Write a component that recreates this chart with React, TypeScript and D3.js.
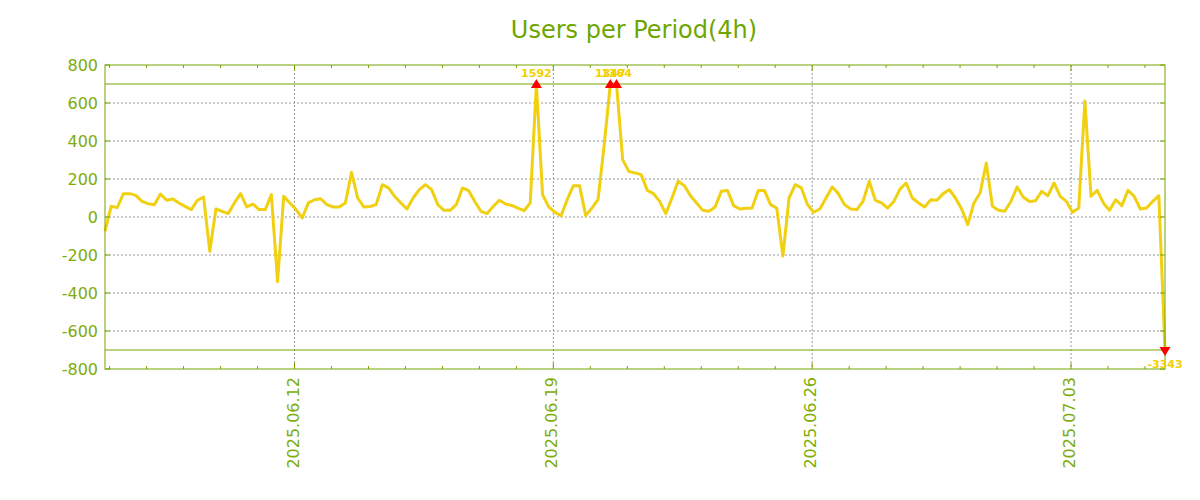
import React from "react";
import * as d3 from "d3";

// chart data, one value per 4h period
const chartTitle = "Users per Period(4h)";
const startTime = Date.UTC(2025, 5, 6, 21);
const periodHours = 4;
const users = [
  -75, 56, 50, 123, 123, 114, 82, 70, 65, 121,
  88, 95, 74, 56, 39, 88, 105, -180, 42, 30,
  18, 74, 123, 53, 68, 39, 39, 118, -340, 109,
  74, 39, -5, 74, 91, 96, 65, 53, 53, 74,
  235, 100, 53, 55, 65, 170, 153, 109, 74, 42,
  100, 144, 170, 144, 65, 35, 35, 65, 153, 139,
  82, 30, 18, 56, 88, 68, 61, 47, 33, 74,
  1592, 118, 53, 25, 7, 91, 165, 165, 7, 47,
  91, 380, 1347, 1364, 302, 240, 232, 223, 140, 123,
  82, 18, 100, 188, 165, 112, 74, 35, 30, 53,
  135, 140, 60, 42, 46, 47, 140, 140, 65, 47,
  -205, 100, 170, 153, 65, 25, 42, 100, 158, 123,
  65, 42, 39, 82, 188, 88, 74, 47, 82, 147,
  179, 100, 74, 53, 91, 88, 123, 144, 100, 42,
  -40, 74, 126, 284, 56, 35, 30, 82, 158, 105,
  82, 86, 135, 112, 179, 109, 82, 25, 47, 610,
  109, 140, 74, 35, 91, 60, 140, 109, 42, 47,
  82, 112, -3343,
];
const yTicks = [-800, -600, -400, -200, 0, 200, 400, 600, 800];
const clipLimit = 700;

const W = 1200;
const H = 500;
const margin = { left: 105, right: 35, top: 65, bottom: 131 };

const green = "#76a400";
const textGreen = "#7eac08";
const lineYellow = "#f0d010";
const font = "DejaVu Sans";

export default function App() {
  const points = users.map((v, i) => ({
    t: new Date(startTime + i * periodHours * 3600 * 1000),
    v,
  }));

  const x = d3
    .scaleUtc()
    .domain(d3.extent(points, (d) => d.t) as [Date, Date])
    .range([margin.left, W - margin.right]);
  const y = d3
    .scaleLinear()
    .domain([-800, 800])
    .range([H - margin.bottom, margin.top]);

  const clamp = (v: number) => Math.max(-clipLimit, Math.min(clipLimit, v));

  const line = d3
    .line<{ t: Date; v: number }>()
    .x((d) => x(d.t))
    .y((d) => y(clamp(d.v)));

  const [x0, x1] = x.range();
  const [yb, yt] = y.range();
  const days = x.ticks(d3.utcDay.every(1)!);
  const weeks = x.ticks(d3.utcThursday.every(1)!);
  const fmt = d3.utcFormat("%Y.%m.%d");
  const isWeek = (d: Date) => weeks.some((w) => +w === +d);

  const clipped = points.filter((d) => Math.abs(d.v) > clipLimit);

  return (
    <svg
      width={W}
      height={H}
      style={{ position: "absolute", left: 0, top: 0 }}
      fontFamily={font}
    >
      <rect width={W} height={H} fill="#fff" />
      <text
        x={634}
        y={38}
        textAnchor="middle"
        fontSize={24}
        fill="#6ea600"
      >
        {chartTitle}
      </text>

      {/* grid */}
      {yTicks
        .filter((t) => Math.abs(t) < 800)
        .map((t) => (
          <line
            key={"gy" + t}
            x1={x0}
            x2={x1}
            y1={y(t)}
            y2={y(t)}
            stroke="#999"
            strokeDasharray="2,2"
          />
        ))}
      {weeks.map((d) => (
        <line
          key={"gx" + +d}
          x1={x(d)}
          x2={x(d)}
          y1={yt}
          y2={yb}
          stroke="#999"
          strokeDasharray="2,2"
        />
      ))}

      {/* series */}
      <path
        d={line(points) ?? ""}
        fill="none"
        stroke={lineYellow}
        strokeWidth={3}
        strokeLinejoin="round"
      />

      {/* limit lines */}
      {[clipLimit, -clipLimit].map((l) => (
        <line
          key={"lim" + l}
          x1={x0}
          x2={x1}
          y1={y(l)}
          y2={y(l)}
          stroke={green}
          strokeWidth={1}
        />
      ))}

      {/* frame */}
      <rect
        x={x0}
        y={yt}
        width={x1 - x0}
        height={yb - yt}
        fill="none"
        stroke={green}
        strokeWidth={1}
      />

      {/* y ticks */}
      {yTicks.map((t) => (
        <g key={"yt" + t}>
          <line x1={x0} x2={x0 + 5} y1={y(t)} y2={y(t)} stroke={green} />
          <line x1={x1} x2={x1 - 5} y1={y(t)} y2={y(t)} stroke={green} />
          <text
            x={x0 - 7}
            y={y(t)}
            dy="0.35em"
            textAnchor="end"
            fontSize={16}
            fill={textGreen}
          >
            {t}
          </text>
        </g>
      ))}

      {/* x ticks */}
      {days.map((d) => {
        const len = isWeek(d) ? 6 : 3;
        return (
          <g key={"xt" + +d}>
            <line x1={x(d)} x2={x(d)} y1={yb} y2={yb - len} stroke={green} />
            <line x1={x(d)} x2={x(d)} y1={yt} y2={yt + len} stroke={green} />
          </g>
        );
      })}
      {weeks.map((d) => (
        <text
          key={"xl" + +d}
          transform={`translate(${x(d)},${yb + 8}) rotate(-90)`}
          dy="0.25em"
          textAnchor="end"
          fontSize={16}
          fill={textGreen}
        >
          {fmt(d)}
        </text>
      ))}

      {/* clipped markers */}
      {clipped.map((d) => {
        const cx = x(d.t);
        const cy = y(clamp(d.v));
        const up = d.v > 0;
        const tri = up
          ? `M${cx},${cy - 5}L${cx + 5.5},${cy + 4}L${cx - 5.5},${cy + 4}Z`
          : `M${cx},${cy + 6}L${cx + 5.5},${cy - 3}L${cx - 5.5},${cy - 3}Z`;
        return (
          <g key={"m" + +d.t}>
            <path d={tri} fill="#ff0000" />
            <text
              x={cx}
              y={up ? cy - 7 : cy + 18}
              textAnchor="middle"
              fontSize={11}
              fontWeight="bold"
              fill="#f2d000"
            >
              {d.v}
            </text>
          </g>
        );
      })}
    </svg>
  );
}
